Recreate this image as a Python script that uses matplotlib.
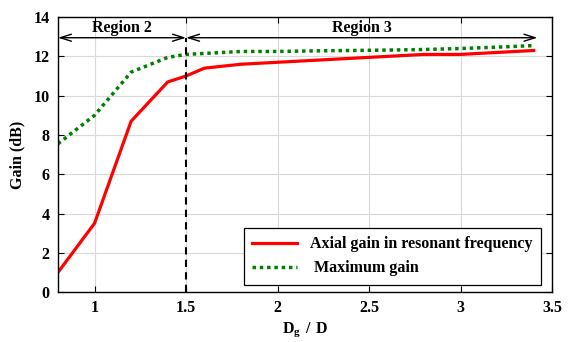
import matplotlib
matplotlib.use("Agg")
import matplotlib.pyplot as plt

plt.rcParams['font.family'] = ['Liberation Serif', 'DejaVu Serif']
plt.rcParams['font.weight'] = 'bold'
plt.rcParams['mathtext.fontset'] = 'custom'
plt.rcParams['mathtext.rm'] = 'Liberation Serif'
plt.rcParams['mathtext.bf'] = 'Liberation Serif:bold'

ratio = [0.8, 1.0, 1.2, 1.4, 1.5, 1.6, 1.8, 2.0, 2.2, 2.4, 2.6, 2.8, 3.0, 3.2, 3.4]
axial_gain = [1.0, 3.5, 8.7, 10.7, 11.0, 11.4, 11.6, 11.7, 11.8, 11.9, 12.0, 12.1, 12.1, 12.2, 12.3]
max_gain = [7.55, 9.0, 11.2, 11.95, 12.1, 12.15, 12.25, 12.25, 12.28, 12.3, 12.32, 12.35, 12.4, 12.47, 12.55]

boundary = 1.5
region2 = (0.8, 1.5)
region3 = (1.5, 3.42)
arrow_y = 12.95

FS = 11.5
fig = plt.figure(figsize=(5.68, 3.42), dpi=100, facecolor="white")
ax = fig.add_axes([0.102, 0.146, 0.870, 0.804])

ax.plot(ratio, axial_gain, color="red", lw=2.3, label="Axial gain in resonant frequency")
ax.plot(ratio, max_gain, color="green", lw=2.5, ls=(0, (1, 1.1)), label=" Maximum gain")
ax.plot([boundary, boundary], [0, arrow_y], color="black", lw=1.5, ls=(0, (3.5, 2.5)))

for (a, b), lab in [(region2, "Region 2"), (region3, "Region 3")]:
    ax.annotate("", xy=(b, arrow_y), xytext=(a, arrow_y),
                arrowprops=dict(arrowstyle="<->,head_length=0.8,head_width=0.25",
                                color="black", lw=1.0, shrinkA=0, shrinkB=0))
    ax.text((a + b) / 2, arrow_y + 0.1, lab, ha="center", va="bottom",
            fontsize=FS, fontweight="bold")

ax.set_xlim(0.8, 3.5)
ax.set_ylim(0, 14)
ax.set_xticks([1, 1.5, 2, 2.5, 3, 3.5])
ax.set_xticklabels(["1", "1.5", "2", "2.5", "3", "3.5"])
ax.set_yticks(range(0, 15, 2))
ax.grid(color="#d9d9d9", lw=0.8)
ax.tick_params(direction="in", top=True, right=True, labelsize=FS, pad=6, length=4)
for sp in ax.spines.values():
    sp.set_linewidth(1.0)

ax.set_xlabel(r"$\mathbf{D_g\ /\ D}$", fontsize=FS, labelpad=3)
ax.set_ylabel("Gain (dB)", fontsize=FS, fontweight="bold", labelpad=6)

leg = ax.legend(loc="lower right", bbox_to_anchor=(0.978, 0.025), borderaxespad=0,
                fontsize=FS, fancybox=False, edgecolor="black", framealpha=1,
                handlelength=2.8, borderpad=0.55, labelspacing=0.5)
leg.get_frame().set_linewidth(0.9)

fig.savefig("out.png", dpi=100, facecolor="white")
